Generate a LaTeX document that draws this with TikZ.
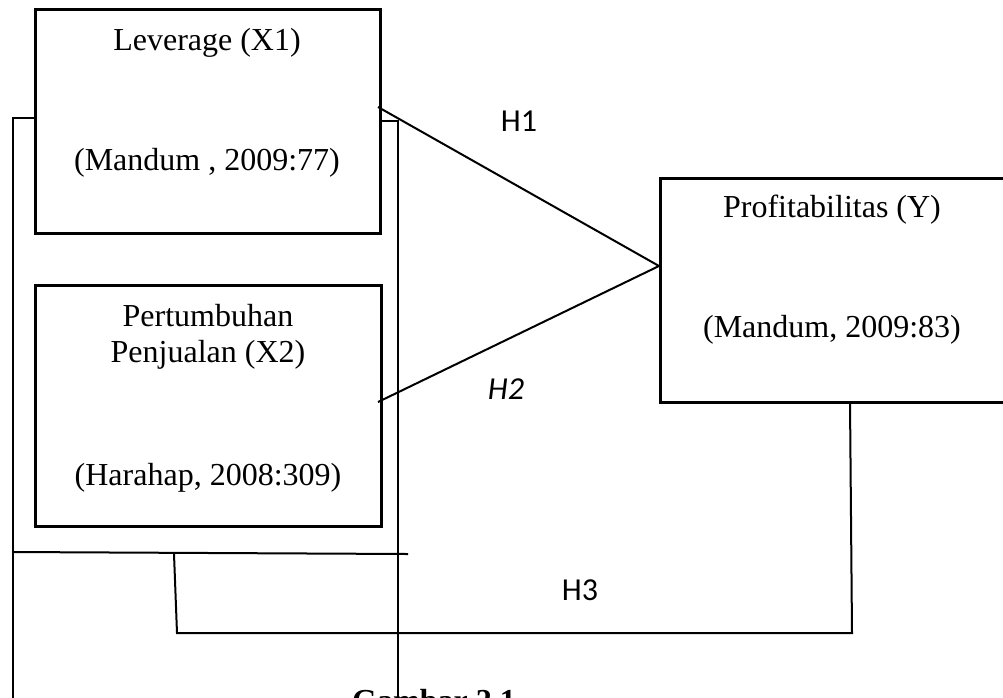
\documentclass[tikz,border=0pt]{standalone}
\usepackage{fontspec}
\setmainfont{Liberation Serif}
\newfontfamily\calib{Carlito}
\begin{document}
\begin{tikzpicture}[x=1pt,y=-1pt,
  box/.style={draw,line width=3pt,minimum width=#1,inner sep=0pt},
  lbl/.style={font=\fontsize{32}{38}\selectfont,inner sep=0pt},
  hlab/.style={font=\calib\fontsize{32}{38}\selectfont,inner sep=0pt},
  conn/.style={line width=2pt}]
\useasboundingbox (0,0) rectangle (1003,697);
% boxes
\node[box=345pt,minimum height=224pt] (x1) at (207.5,121) {};
\node[box=346pt,minimum height=241pt] (x2) at (208,405.5) {};
\node[box=346pt,minimum height=224pt] (y) at (833,290) {};
% texts
\node[lbl] (t1) at (207,43) {Leverage (X1)};
\node[lbl] (t2) at (207,163) {(Mandum , 2009:77)};
\node[lbl] (t3) at (208,316) {Pertumbuhan};
\node[lbl] (t4) at (208,355) {Penjualan (X2)};
\node[lbl] (t5) at (208,478) {(Harahap, 2008:309)};
\node[lbl] (t6) at (832,210) {Profitabilitas (Y)};
\node[lbl] (t7) at (832,330) {(Mandum, 2009:83)};
\node[hlab] (h1) at (519,121) {H1};
\node[hlab,font=\calib\itshape\fontsize{32}{38}\selectfont] (h2) at (506,389) {H2};
\node[hlab] (h3) at (580,590) {H3};
\node[lbl,font=\bfseries\fontsize{32}{38}\selectfont,anchor=base west] (cap) at (352,711) {Gambar 2.1};
% coordinates
\coordinate (a1) at (378,107);
\coordinate (a2) at (378,402);
\coordinate (yin) at (659,266);
\coordinate (lb) at (13,118);
\coordinate (rb) at (398,121);
\coordinate (lbot) at (13,705);
\coordinate (rbot) at (398,705);
\coordinate (m1) at (13,552);
\coordinate (m2) at (408,554);
\coordinate (d1) at (174,554);
\coordinate (d2) at (177,633);
\coordinate (d3) at (852,633);
\coordinate (yb) at (850,402);
% connectors
\draw[conn] (x1.west |- lb) -- (lb) -- (lbot);
\draw[conn] (x1.east |- rb) -- (rb) -- (rbot);
\draw[conn] (a1) -- (yin);
\draw[conn] (a2) -- (yin);
\draw[conn] (m1) -- (m2);
\draw[conn] (d1) -- (d2) -- (d3) -- (yb);
\end{tikzpicture}
\end{document}
